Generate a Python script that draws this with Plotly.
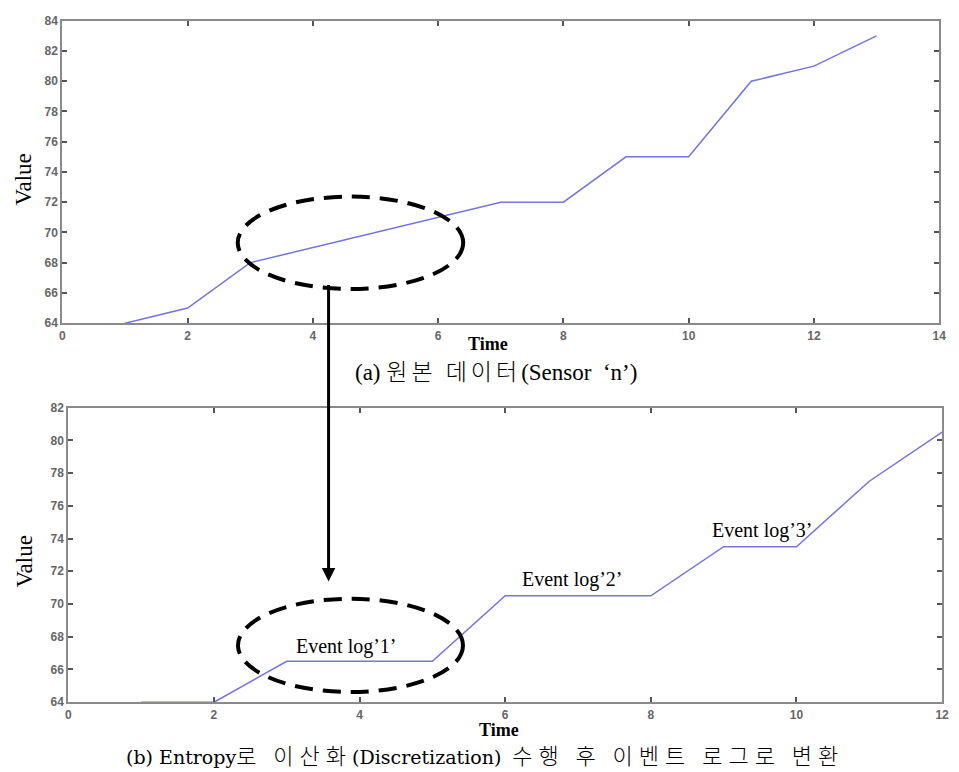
import plotly.graph_objects as go

W, H = 959, 772

# ---- data ----
time_a = [1, 2, 3, 4, 5, 6, 7, 8, 9, 10, 11, 12, 13]
value_a = [64, 65, 68, 69, 70, 71, 72, 72, 75, 75, 80, 81, 83]

time_b = [1, 2, 3, 4, 5, 6, 7, 8, 9, 10, 11, 12]
value_b = [64, 64, 66.5, 66.5, 66.5, 70.5, 70.5, 70.5, 73.5, 73.5, 77.5, 80.5]

xticks_a = list(range(0, 15, 2))
yticks_a = list(range(64, 85, 2))
xticks_b = list(range(0, 13, 2))
yticks_b = list(range(64, 83, 2))

event_labels = ["Event log’1’", "Event log’2’", "Event log’3’"]
event_x = [3.82, 6.92, 9.54]
event_y = [67.38, 71.52, 74.52]


def px(x):
    return x / W


def py(y):
    return 1 - y / H


LINE = "#7474dc"
AXC = "#8a8a8a"
TICKFONT = dict(family="Liberation Sans, Arial", size=12, color="#666666", weight="bold")
SERIF = "Liberation Serif, Times New Roman, serif"

fig = go.Figure()
fig.add_trace(go.Scatter(x=time_a, y=value_a, mode="lines",
                         line=dict(color=LINE, width=1.5), xaxis="x", yaxis="y",
                         showlegend=False, hoverinfo="skip"))
fig.add_trace(go.Scatter(x=time_b, y=value_b, mode="lines",
                         line=dict(color=LINE, width=1.5), xaxis="x2", yaxis="y2",
                         showlegend=False, hoverinfo="skip"))

axis_common = dict(showgrid=False, zeroline=False, showline=True, linecolor=AXC,
                   linewidth=2, mirror="ticks", ticks="inside", ticklen=5,
                   tickcolor="#555555", tickwidth=1.5, tickfont=TICKFONT)

fig.update_layout(
    width=W, height=H,
    margin=dict(l=0, r=0, t=0, b=0),
    paper_bgcolor="white", plot_bgcolor="white",
    xaxis=dict(domain=[px(60), px(946)], range=[0, 14], tickvals=xticks_a,
               anchor="y", **axis_common),
    yaxis=dict(domain=[py(322), py(14)], range=[64, 84], tickvals=yticks_a,
               anchor="x", **axis_common),
    xaxis2=dict(domain=[px(66), px(949)], range=[0, 12], tickvals=xticks_b,
                anchor="y2", **axis_common),
    yaxis2=dict(domain=[py(708), py(408)], range=[64, 82], tickvals=yticks_b,
                anchor="x2", **axis_common),
)

# dashed ellipses
fig.add_shape(type="circle", xref="x", yref="y", x0=2.8, x1=6.4, y0=66.26, y1=72.37,
              line=dict(color="black", width=4, dash="18px,10px"))
fig.add_shape(type="circle", xref="x2", yref="y2", x0=2.33, x1=5.42, y0=64.62, y1=70.32,
              line=dict(color="black", width=4, dash="18px,10px"))

# arrow between the panels
fig.add_annotation(x=px(329), y=py(585), xref="paper", yref="paper", text="",
                   showarrow=True, ax=0, ay=-298, arrowhead=2, arrowsize=0.9,
                   arrowwidth=3, arrowcolor="black", standoff=0)

# event log labels
for t, xx, yy in zip(event_labels, event_x, event_y):
    fig.add_annotation(x=xx, y=yy, xref="x2", yref="y2", text=t, showarrow=False,
                       xanchor="center", yanchor="middle",
                       font=dict(family=SERIF, size=20, color="black"))

# axis titles
for (x, y) in [(21, 176), (22, 565)]:
    fig.add_annotation(x=px(x), y=py(y), xref="paper", yref="paper", text="Value",
                       textangle=-90, showarrow=False, xanchor="center", yanchor="middle",
                       font=dict(family=SERIF, size=23, color="black"))
for (x, y) in [(490, 343), (501, 736)]:
    fig.add_annotation(x=px(x), y=py(y), xref="paper", yref="paper", text="Time",
                       showarrow=False, xanchor="center", yanchor="middle",
                       font=dict(family=SERIF, size=18, color="black", weight="bold"))

KR = "font-family:'Noto Sans CJK KR';font-size:23px;font-weight:300;letter-spacing:4px"
LAT = "font-family:'Liberation Serif';font-size:23px"
cap_a = (f"<span style=\"{LAT}\">(a) </span>"
         f"<span style=\"{KR}\">원본 데이터</span>"
         f"<span style=\"{LAT}\">(Sensor  ‘n’)</span>")
fig.add_annotation(x=px(498), y=py(370), xref="paper", yref="paper", text=cap_a,
                   showarrow=False, xanchor="center", yanchor="middle",
                   font=dict(family=SERIF, size=21, color="black"))

KRB = "font-family:'Noto Sans CJK KR';font-size:22px;font-weight:300;letter-spacing:6px"
LATB = "font-family:'DejaVu Serif';font-size:19px"
cap_b = (f"<span style=\"{LATB}\">(b) Entropy</span>"
         f"<span style=\"{KRB}\">로 이산화</span>"
         f"<span style=\"{LATB}\">(Discretization)</span>"
         f"<span style=\"{KRB}\"> 수행 후 이벤트 로그로 변환</span>")
fig.add_annotation(x=px(487), y=py(761), xref="paper", yref="paper", text=cap_b,
                   showarrow=False, xanchor="center", yanchor="middle",
                   font=dict(family=SERIF, size=20, color="black"))

fig.write_html("out.html")
